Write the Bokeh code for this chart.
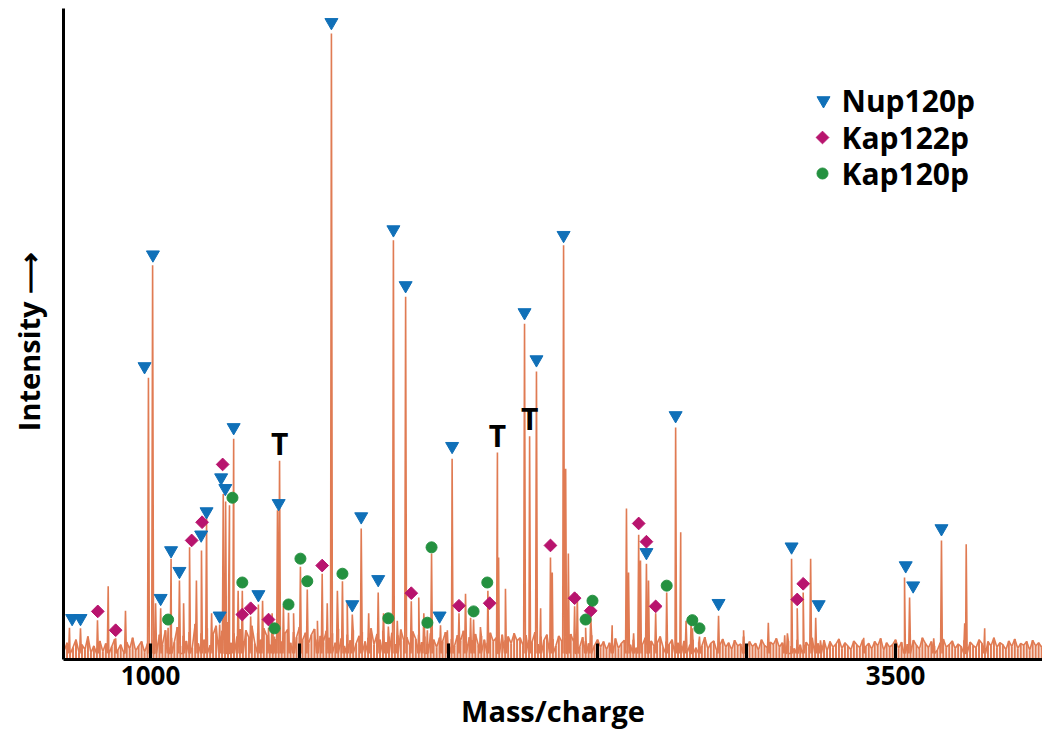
import numpy as np
from bokeh.plotting import figure
from bokeh.models import Range1d, FixedTicker
from bokeh.core.properties import value
from bokeh.embed import file_html
from bokeh.resources import INLINE

# ---------------- data ----------------
# baseline noise, one value every 10 m/z starting at 710 (intensity, arbitrary units 0-1000)
noise_start = 710
noise_step = 10
noise = [
    12, 25, 8, 18, 30, 10, 22, 14, 35, 9, 20, 16, 28, 11, 24, 7, 19, 31, 13, 22, 9, 26, 15, 33, 12, 20, 27, 10, 24, 18,
    30, 15, 38, 22, 45, 18, 33, 26, 50, 20, 36, 28, 42, 17, 55, 24, 40, 30, 48, 21, 38, 52, 26, 44, 32, 58, 25, 40, 35, 47,
    28, 45, 33, 52, 24, 40, 30, 48, 36, 22, 44, 31, 55, 27, 39, 46, 25, 42, 34, 50, 29, 41, 23, 38, 47, 30, 36, 26, 44, 33,
    40, 25, 47, 32, 20, 38, 29, 45, 24, 36, 42, 27, 33, 48, 22, 39, 30, 44, 26, 35, 41, 23, 37, 46, 28, 34, 20, 43, 31, 38,
    26, 35, 22, 40, 30, 18, 33, 27, 42, 24, 31, 20, 37, 28, 44, 23, 34, 29, 39, 21, 36, 30, 25, 41, 27, 33, 19, 38, 29, 35,
    24, 40, 28, 33, 21, 37, 30, 26, 42, 23, 35, 29, 38, 25, 31, 20, 36, 27, 33, 22, 39, 26, 30, 18, 34, 28, 24, 37, 21, 30,
    18, 27, 14, 25, 20, 32, 16, 24, 29, 13, 22, 30, 17, 26, 21, 33, 15, 28, 19, 24, 35, 18, 27, 22, 30, 16, 25, 20, 28, 14,
    22, 30, 17, 26, 20, 34, 15, 24, 28, 12, 21, 31, 18, 25, 14, 29, 20, 23, 35, 16, 27, 19, 24, 13, 30, 21, 17, 26, 22, 32,
    18, 25, 14, 28, 20, 16, 30, 22, 13, 26, 19, 33, 15, 24, 21, 29, 12, 27, 18, 23, 31, 16, 25, 20, 14, 28, 22, 17, 30, 19,
    24, 15, 27, 20, 32, 13, 25, 18, 22, 30, 16, 26, 14, 23, 19, 29, 21, 15, 33, 24, 17, 27, 20, 13, 25, 31, 18, 22, 28, 16,
    23, 19, 29, 14, 26, 21, 17, 30, 24, 15, 27, 20, 33, 18, 25, 22, 14, 28, 19, 31, 16, 24, 21, 27, 13, 29, 20, 25, 18, 23,
]

# main peaks (m/z, intensity)
peak_mass = [728, 765, 822, 858, 883, 916, 993, 1007, 1034, 1059, 1069, 1097, 1131, 1154, 1171, 1188,
             1232, 1244, 1252, 1265, 1279, 1308, 1336, 1362, 1396, 1416, 1426, 1433, 1463, 1503, 1526,
             1576, 1607, 1644, 1677, 1707, 1764, 1798, 1815, 1856, 1875, 1929, 1943, 1973, 2012, 2035,
             2084, 2132, 2164, 2255, 2272, 2295, 2342, 2386, 2423, 2460, 2477, 2597, 2638, 2664, 2695,
             2732, 2762, 2779, 2818, 2842, 2906, 3151, 3170, 3190, 3215, 3232, 3530, 3547, 3654, 3737]
peak_int = [49, 48, 61, 115, 32, 76, 447, 626, 80, 49, 159, 124, 177, 124, 172, 223,
            54, 262, 250, 244, 350, 108, 67, 86, 49, 35, 236, 315, 73, 146, 110,
            135, 995, 123, 70, 207, 105, 51, 666, 576, 91, 45, 167, 53, 318, 72,
            62, 108, 328, 533, 354, 457, 161, 658, 83, 49, 67, 239, 197, 151, 72,
            105, 368, 201, 48, 35, 68, 159, 80, 105, 159, 65, 129, 97, 188, 182]

# small unassigned peaks (m/z, intensity)
minor_mass = [1017, 1111, 1205, 1262, 1294, 1376, 1408, 1446, 1480, 1560, 1593, 1627, 1660, 1732,
              1782, 1828, 1900, 1917, 1996, 2057, 2074, 2107, 2168, 2191, 2309, 2348, 2393, 2402,
              2432, 2549, 2604, 2621, 2644, 2671, 2797, 2814, 2990, 3073, 3128, 3137, 3248, 3393,
              3628, 3732, 3799]
minor_int = [88, 88, 72, 97, 108, 92, 72, 84, 72, 60, 88, 108, 92, 72,
             72, 60, 97, 72, 45, 103, 65, 50, 161, 111, 80, 137, 302, 167,
             103, 53, 137, 40, 156, 124, 60, 60, 45, 57, 37, 40, 29, 33,
             32, 56, 48]

# assigned peptides (marker positions)
nup_mass = [737, 765, 980, 1008, 1034, 1069, 1097, 1170, 1188, 1232, 1237, 1251, 1279, 1362, 1430,
            1607, 1677, 1707, 1764, 1815, 1856, 1970, 2012, 2255, 2295, 2386, 2664, 2762, 2906,
            3151, 3242, 3534, 3559, 3654]
nup_int = [64, 64, 465, 643, 96, 172, 139, 197, 234, 68, 288, 271, 368, 102, 247,
           1013, 86, 226, 126, 683, 594, 68, 338, 551, 476, 674, 169, 387, 88,
           178, 86, 148, 116, 207]

kap122_mass = [823, 883, 1138, 1173, 1242, 1308, 1336, 1396, 1576, 1875, 2035, 2138, 2342, 2423,
               2477, 2638, 2664, 2695, 3170, 3190]
kap122_int = [75, 45, 188, 217, 309, 70, 80, 62, 148, 104, 84, 88, 180, 96,
              76, 215, 186, 83, 94, 119]

kap120_mass = [1059, 1275, 1308, 1416, 1463, 1503, 1526, 1644, 1798, 1929, 1943, 2084, 2130, 2460,
               2483, 2732, 2818, 2842]
kap120_int = [62, 256, 121, 48, 86, 159, 123, 135, 64, 57, 177, 75, 121, 62,
              92, 116, 61, 48]

# trypsin autolysis peaks
t_mass = [1433, 2164, 2272]
t_int = [342, 355, 382]

legend_names = ["Nup120p", "Kap122p", "Kap120p"]

x_ticks = [1000, 1500, 2000, 2500, 3000, 3500]
x_tick_labels = {1000: "1000", 3500: "3500"}
x_title = "Mass/charge"
y_title = "Intensity \u27f6\u00a0\u00a0"

# ---------------- styling / layout ----------------
W, H = 1042, 732
FL, FR, FT, FB = 63, 1042, 8, 659   # frame edges in px
X0, X1 = 708, 3993
Y0, Y1 = -1.6, 1035

LINE = "#E07B53"
BLUE = "#1070B8"
MAGENTA = "#B8146E"
GREEN = "#249140"
FONT = "Open Sans"

p = figure(width=W, height=H, output_backend="svg", toolbar_location=None,
           x_range=Range1d(X0, X1), y_range=Range1d(Y0, Y1),
           min_border_left=FL, min_border_right=W - FR, min_border_top=FT,
           min_border_bottom=H - FB)
p.outline_line_color = None
p.grid.grid_line_color = None
p.background_fill_color = "white"
p.border_fill_color = "white"

# baseline noise drawn as a dense comb + the spectrum line on top
nm = noise_start + noise_step * np.arange(len(noise))
nv = np.array(noise, dtype=float)
p.segment(x0=nm, y0=np.zeros(len(nm)), x1=nm, y1=nv, line_color=LINE, line_width=2)

pm = np.array(peak_mass + minor_mass, dtype=float)
pi = np.array(peak_int + minor_int, dtype=float)
w = 3.0
base = 8.0
mx = np.concatenate([nm, pm - w, pm, pm + w])
my = np.concatenate([nv, np.full(len(pm), base), pi, np.full(len(pm), base)])
order = np.argsort(mx, kind="stable")
p.line(mx[order], my[order], line_color=LINE, line_width=1.6)

# markers
p.scatter(nup_mass, nup_int, marker="inverted_triangle", size=13, color=BLUE)
p.scatter(kap122_mass, kap122_int, marker="square", angle=np.pi / 4, size=9, color=MAGENTA)
p.scatter(kap120_mass, kap120_int, marker="circle", size=11, color=GREEN)

# T labels
p.text(t_mass, t_int, text=["T"] * len(t_mass), text_font=value(FONT), text_font_style="bold",
       text_font_size="30px", text_align="center", text_baseline="middle", text_color="black")

# manual legend (placed in screen px, converted to data coords)
def sx(px):
    return X0 + (px - FL) * (X1 - X0) / (FR - FL)

def sy(py):
    return Y0 + (FB - py) * (Y1 - Y0) / (FB - FT)

leg_y = [100, 137, 173]
p.scatter([sx(823)], [sy(leg_y[0])], marker="inverted_triangle", size=13, color=BLUE)
p.scatter([sx(822)], [sy(leg_y[1])], marker="square", angle=np.pi / 4, size=9, color=MAGENTA)
p.scatter([sx(822)], [sy(leg_y[2])], marker="circle", size=11, color=GREEN)
p.text([sx(841)] * 3, [sy(v) for v in leg_y], text=legend_names, text_font=value(FONT),
       text_font_style="bold", text_font_size="30px", text_align="left", text_baseline="middle",
       text_color="black")

# axes
xa = p.xaxis[0]
xa.ticker = FixedTicker(ticks=x_ticks)
xa.major_label_overrides = {t: x_tick_labels.get(t, "") for t in x_ticks}
xa.major_tick_in = 16
xa.major_tick_out = 0
xa.major_tick_line_width = 3
xa.major_tick_line_color = "black"
xa.minor_tick_line_color = None
xa.axis_line_width = 3
xa.axis_line_color = "black"
xa.major_label_text_font = FONT
xa.major_label_text_font_style = "bold"
xa.major_label_text_font_size = "26px"
xa.major_label_text_color = "black"
xa.major_label_standoff = 6
xa.axis_label = x_title
xa.axis_label_text_font = FONT
xa.axis_label_text_font_style = "bold"
xa.axis_label_text_font_size = "29px"
xa.axis_label_text_color = "black"
xa.axis_label_standoff = 3

ya = p.yaxis[0]
ya.ticker = FixedTicker(ticks=[])
ya.major_tick_line_color = None
ya.minor_tick_line_color = None
ya.axis_line_width = 3
ya.axis_line_color = "black"
ya.axis_label = y_title
ya.axis_label_text_font = FONT
ya.axis_label_text_font_style = "bold"
ya.axis_label_text_font_size = "29px"
ya.axis_label_text_color = "black"
ya.axis_label_standoff = 16

open("out.html", "w").write(file_html(p, INLINE))
